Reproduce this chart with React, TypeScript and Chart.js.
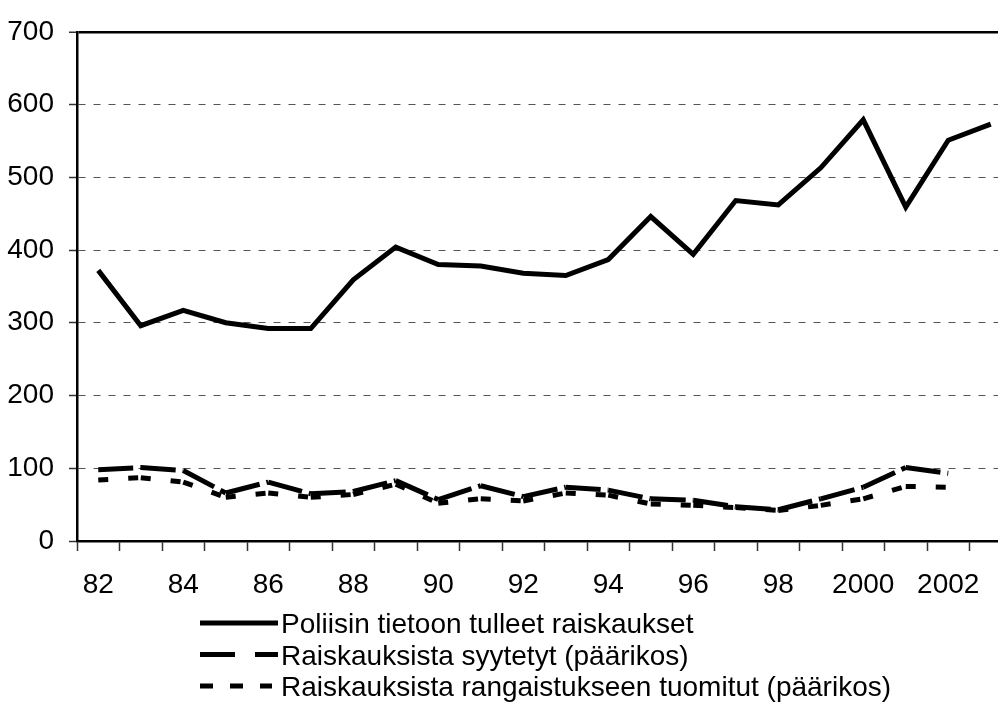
import React, { useEffect, useRef } from 'react';
import { Chart, registerables } from 'chart.js';

Chart.register(...registerables);

const years = ['82', '83', '84', '85', '86', '87', '88', '89', '90', '91', '92', '93', '94', '95', '96', '97', '98', '99', '2000', '2001', '2002', '2003'];
const reported = [372, 296, 317, 300, 292, 292, 359, 404, 380, 378, 368, 365, 387, 446, 394, 468, 462, 513, 579, 459, 551, 573];
const prosecuted = [98, 101, 97, 66, 81, 65, 68, 83, 57, 76, 61, 74, 70, 58, 56, 47, 43, 58, 74, 101, 93, null];
const convicted = [84, 87, 81, 60, 66, 60, 64, 78, 52, 58, 55, 66, 63, 51, 49, 46, 42, 49, 58, 75, 74, null];
const seriesNames = [
  'Poliisin tietoon tulleet raiskaukset',
  'Raiskauksista syytetyt (päärikos)',
  'Raiskauksista rangaistukseen tuomitut (päärikos)',
];
const yMin = 0;
const yMax = 700;
const yStep = 100;

const FONT = "'Liberation Sans', Arial, sans-serif";

const legendPlugin = {
  id: 'customLegend',
  afterDraw(chart: any) {
    const ctx = chart.ctx;
    const dashes = [[], [35, 20], [13, 17]];
    const ends = [278, 278, 272];
    const baselines = [633, 664.5, 696];
    ctx.save();
    seriesNames.forEach((name, i) => {
      const y = baselines[i] - 10;
      ctx.beginPath();
      ctx.setLineDash(dashes[i]);
      ctx.lineDashOffset = 0;
      ctx.lineCap = 'butt';
      ctx.lineWidth = 5;
      ctx.strokeStyle = '#000';
      ctx.moveTo(200, y);
      ctx.lineTo(ends[i], y);
      ctx.stroke();
      ctx.setLineDash([]);
      ctx.fillStyle = '#000';
      ctx.font = `28px ${FONT}`;
      ctx.textBaseline = 'alphabetic';
      ctx.textAlign = 'left';
      ctx.fillText(name, 281, baselines[i]);
    });
    ctx.restore();
  },
};

export default function App() {
  const canvasRef = useRef<HTMLCanvasElement | null>(null);

  useEffect(() => {
    if (!canvasRef.current) return;
    const restart = (c: any) => (c.p0DataIndex % 2 ? 0.001 : 0);
    const chart = new Chart(canvasRef.current, {
      type: 'line',
      data: {
        labels: years,
        datasets: [
          {
            label: seriesNames[0],
            data: reported,
            borderColor: '#000',
            borderWidth: 5,
            pointRadius: 0,
            tension: 0,
            fill: false,
          },
          {
            label: seriesNames[1],
            data: prosecuted,
            borderColor: '#000',
            borderWidth: 5,
            borderDash: [35, 7],
            borderCapStyle: 'butt',
            pointRadius: 0,
            tension: 0,
            fill: false,
            segment: { borderDashOffset: restart },
          },
          {
            label: seriesNames[2],
            data: convicted,
            borderColor: '#000',
            borderWidth: 5,
            borderDash: [10, 20],
            borderCapStyle: 'butt',
            pointRadius: 0,
            tension: 0,
            fill: false,
            segment: { borderDashOffset: restart },
          },
        ],
      } as any,
      options: {
        animation: false,
        responsive: false,
        devicePixelRatio: 1,
        layout: { padding: { top: 27, right: 2, left: 0, bottom: 0 } },
        plugins: { legend: { display: false }, tooltip: { enabled: false } },
        scales: {
          x: {
            type: 'category',
            offset: true,
            grid: {
              offset: true,
              drawOnChartArea: false,
              drawTicks: true,
              tickLength: 10,
              tickColor: '#333',
              tickWidth: 1.5,
            },
            border: { display: true, color: '#000', width: 2.5 },
            ticks: {
              autoSkip: false,
              maxRotation: 0,
              padding: 17,
              color: '#000',
              font: { family: FONT, size: 28 },
              callback: (_v: any, i: number) => (i % 2 === 0 ? years[i] : ''),
            },
            afterFit: (s: any) => {
              s.height = 163;
            },
          },
          y: {
            min: yMin,
            max: yMax,
            ticks: {
              stepSize: yStep,
              padding: 15,
              color: '#000',
              font: { family: FONT, size: 28 },
            },
            grid: {
              color: (c: any) => (c.tick && c.tick.value === yMax ? '#000' : '#555'),
              lineWidth: (c: any) => (c.tick && c.tick.value === yMax ? 2.5 : 1),
              tickLength: 8,
              tickColor: '#333',
              tickWidth: 1.5,
            },
            border: {
              display: true,
              color: '#000',
              width: 2.5,
              dash: (c: any) => (c.tick && c.tick.value !== yMax ? [7, 8] : []),
            },
            afterFit: (s: any) => {
              s.width = 77;
            },
          },
        },
      } as any,
      plugins: [legendPlugin],
    });
    return () => chart.destroy();
  }, []);

  return (
    <div
      style={{
        position: 'fixed',
        left: 0,
        top: 0,
        width: 998,
        height: 704,
        overflow: 'hidden',
        background: '#fff',
      }}
    >
      <canvas ref={canvasRef} width={1014} height={704} style={{ display: 'block' }} />
    </div>
  );
}
